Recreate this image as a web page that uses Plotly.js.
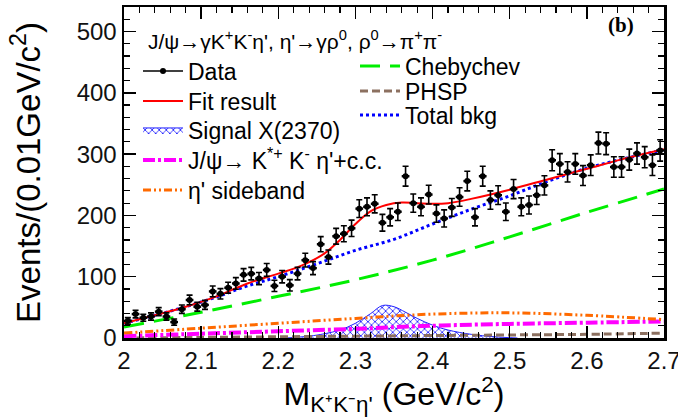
<!DOCTYPE html>
<html><head><meta charset="utf-8">
<script src="https://cdn.plot.ly/plotly-3.0.1.min.js"></script>
<style>html,body{margin:0;padding:0;background:#fff}#chart{width:678px;height:417px}</style>
</head><body><div id="chart"></div>
<script>
// Data histogram: 70 bins of 0.01 GeV/c^2 from 2.00 to 2.70
const binStart = 2.005;
const binWidth = 0.01;
const dataCounts = [28,39,33,35,43,35,26,47,62,51,54,76,72,82,89,103,105,97,111,85,
                    100,86,105,127,114,153,132,166,170,179,211,214,219,188,197,206,264,220,214,234,
                    203,195,213,230,256,197,264,225,233,206,243,214,217,233,249,290,284,271,284,265,
                    282,318,317,279,279,291,301,295,282,306];

const fitX = [2.00,2.04,2.08,2.12,2.16,2.20,2.23,2.26,2.28,2.30,2.32,2.34,2.36,2.38,2.40,2.42,2.45,2.50,2.55,2.60,2.65,2.70];
const fitY = [24,37,51,68,89,105,118,138,160,186,207,217,221,220,219,220,227,242,259,276,293,308];

const bkgX = [2.00,2.04,2.08,2.12,2.16,2.20,2.25,2.30,2.35,2.40,2.45,2.50,2.55,2.60,2.65,2.70];
const bkgY = [24,37,51,67,85,100,121,143,161,186,210,232,256,277,293,307];

const compX = [2.0,2.1,2.2,2.3,2.4,2.5,2.6,2.7];
const chebyY = [18,42,68,95,127,165,205,243];
const sidebandY = [8,16,24,32,39,41,37,30];
const kstarY = [3,7,11,15,20,23,25,27];
const phspY = [0,1,2,3,4,5,6,8];

const sigX = [2.21,2.24,2.26,2.28,2.30,2.32,2.335,2.35,2.365,2.38,2.40,2.42,2.45,2.48,2.51];
const sigY = [0,3,7,13,24,40,53,51,42,32,21,13,6,2,0];

const FONT = 'Liberation Sans, Arial, sans-serif';

const traces = [
  {x: sigX, y: sigY, mode:'lines', line:{shape:'spline', color:'#2020ff', width:1},
   fill:'tozeroy', fillcolor:'rgba(0,0,0,0)',
   fillpattern:{shape:'x', fgcolor:'#1a1aff', bgcolor:'rgba(255,255,255,0)', size:5, solidity:0.3},
   name:'Signal X(2370)', legend:'legend3'},
  {x: compX, y: phspY, mode:'lines', line:{shape:'spline', color:'#8c7060', width:3, dash:'8px,4px'},
   name:'PHSP', legend:'legend7'},
  {x: compX, y: kstarY, mode:'lines', line:{shape:'spline', color:'#ff00ff', width:4, dash:'12px,3px,3px,3px'},
   name:'J/\u03c8\u2192 K<sup>*+</sup> K<sup>-</sup> \u03b7\'+c.c.', legend:'legend4'},
  {x: compX, y: sidebandY, mode:'lines', line:{shape:'spline', color:'#ff6a00', width:3, dash:'8px,3px,2px,3px,2px,3px'},
   name:'\u03b7\' sideband', legend:'legend5'},
  {x: compX, y: chebyY, mode:'lines', line:{shape:'spline', color:'#00ee00', width:3, dash:'20px,10px'},
   name:'Chebychev', legend:'legend6'},
  {x: bkgX, y: bkgY, mode:'lines', line:{shape:'spline', color:'#0000ff', width:3, dash:'3px,3px'},
   name:'Total bkg', legend:'legend8'},
  {x: fitX, y: fitY, mode:'lines', line:{shape:'spline', color:'#ff0000', width:2},
   name:'Fit result', legend:'legend2'},
  {y: dataCounts, x0: binStart, dx: binWidth, mode:'markers', type:'scatter',
   marker:{color:'black', size:6},
   error_y:{type:'sqrt', color:'black', thickness:1.6, width:3},
   error_x:{type:'constant', value:binWidth/2, color:'black', thickness:2.4, width:0},
   showlegend:false, name:'Data'},
  {x:[null], y:[null], mode:'lines+markers', line:{color:'black', width:1.5}, marker:{color:'black', size:6},
   name:'Data', legend:'legend'}
];

function leg(xPix, yPix) {
  return {x:(xPix-124)/540, y:(338-yPix)/331, xanchor:'left', yanchor:'middle',
          bgcolor:'rgba(0,0,0,0)', borderwidth:0, font:{size:23, family:FONT}, itemwidth:40};
}

const layout = {
  width:678, height:417,
  margin:{l:124, r:14, t:7, b:79},
  paper_bgcolor:'white', plot_bgcolor:'white',
  font:{family:FONT, color:'black'},
  showlegend:true,
  xaxis:{range:[2,2.70001], tick0:2, dtick:0.1, ticks:'inside', ticklen:12, tickwidth:1.5, tickcolor:'black',
         showline:true, linewidth:2.5, linecolor:'black', mirror:'ticks', showgrid:false, zeroline:false,
         ticklabeloverflow:'allow',
         minor:{dtick:0.02, ticks:'inside', ticklen:6, tickwidth:1.2, tickcolor:'black', showgrid:false},
         tickfont:{size:24, family:FONT, color:'#111'},
         title:{text:'M<sub>K\u207aK\u207b\u03b7\'</sub> (GeV/c<sup>2</sup>)', font:{size:32, family:FONT}, standoff:4}},
  yaxis:{range:[0,540], tick0:0, dtick:100, ticks:'inside', ticklen:12, tickwidth:1.5, tickcolor:'black',
         showline:true, linewidth:2.5, linecolor:'black', mirror:'ticks', showgrid:false, zeroline:false,
         minor:{dtick:20, ticks:'inside', ticklen:6, tickwidth:1.2, tickcolor:'black', showgrid:false},
         tickfont:{size:24, family:FONT, color:'#111'},
         title:{text:'Events/(0.01GeV/c<sup>2</sup>)', font:{size:33, family:FONT}, standoff:26}},
  legend: leg(138, 71),
  legend2: leg(138, 101),
  legend3: leg(138, 130),
  legend4: leg(138, 160),
  legend5: leg(138, 190),
  legend6: leg(355, 66),
  legend7: leg(355, 91),
  legend8: leg(355, 115),
  annotations:[
    {xref:'paper', yref:'paper', x:0.04, y:0.9, xanchor:'left', yanchor:'middle', showarrow:false,
     text:'J/\u03c8\u2192\u03b3K<sup>+</sup>K<sup>-</sup>\u03b7\', \u03b7\'\u2192\u03b3\u03c1<sup>0</sup>, \u03c1<sup>0</sup>\u2192\u03c0<sup>+</sup>\u03c0<sup>-</sup>',
     font:{size:21, family:FONT}},
    {xref:'paper', yref:'paper', x:0.92, y:0.946, xanchor:'center', yanchor:'middle', showarrow:false,
     text:'<b>(b)</b>', font:{size:21, family:'Liberation Serif, Times New Roman, serif'}}
  ]
};

Plotly.newPlot('chart', traces, layout, {displayModeBar:false, staticPlot:true});
</script>
</body></html>
